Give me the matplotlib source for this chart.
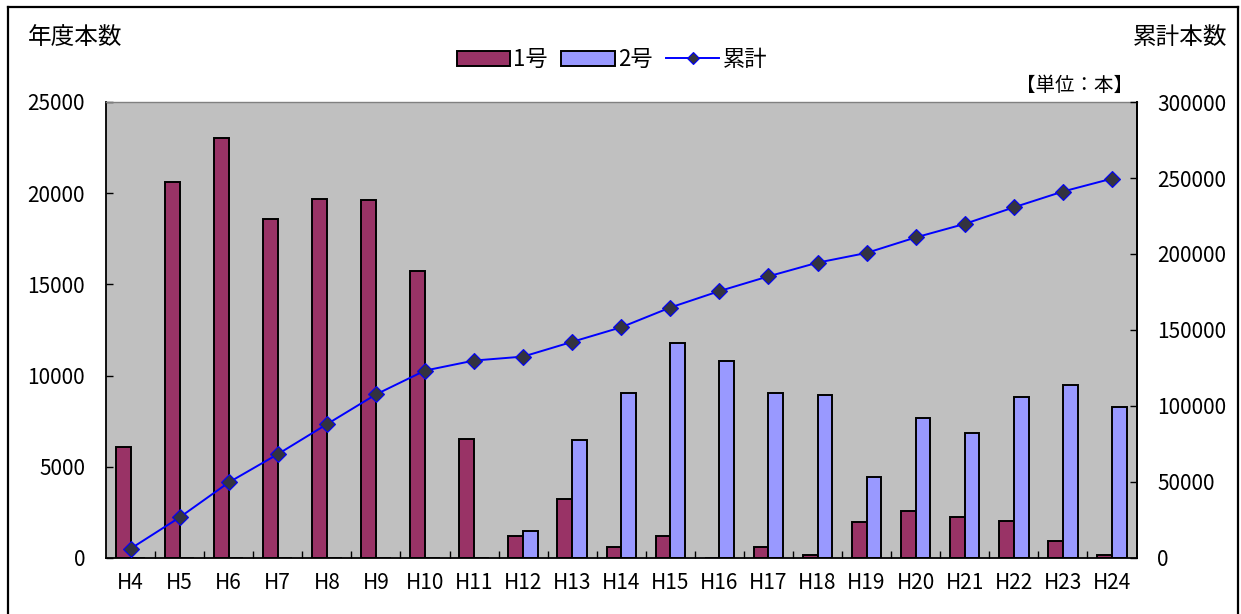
import matplotlib
matplotlib.use("Agg")
import matplotlib.pyplot as plt
from matplotlib.lines import Line2D
from matplotlib.ticker import FixedLocator, NullFormatter

plt.rcParams['font.family'] = ['Noto Sans CJK JP', 'DejaVu Sans']

# Fiscal years (Heisei era)
years = ["H4", "H5", "H6", "H7", "H8", "H9", "H10", "H11", "H12", "H13", "H14",
         "H15", "H16", "H17", "H18", "H19", "H20", "H21", "H22", "H23", "H24"]
# Annual counts by type
type1 = [6100, 20600, 23000, 18600, 19700, 19600, 15750, 6550, 1200, 3250, 600,
         1200, 0, 600, 150, 1950, 2600, 2250, 2050, 950, 150]
type2 = [0, 0, 0, 0, 0, 0, 0, 0, 1500, 6450, 9050,
         11800, 10800, 9050, 8950, 4450, 7650, 6850, 8850, 9500, 8300]
# Running total
cumulative = [6100, 26700, 49700, 68300, 88000, 107600, 123300, 129900, 132500,
              142200, 151800, 164800, 175600, 185300, 194300, 200700, 210900,
              219800, 230700, 241100, 249600]

left_ticks = [0, 5000, 10000, 15000, 20000, 25000]
right_ticks = [0, 50000, 100000, 150000, 200000, 250000, 300000]

W, H = 1241, 614
fig = plt.figure(figsize=(W / 100, H / 100), dpi=100)
ax = fig.add_axes([106 / W, 1 - 558 / H, (1136.5 - 106) / W, (558 - 102) / H])
ax.set_facecolor("#C0C0C0")

x = list(range(len(years)))
bw = 0.3
b1 = ax.bar([i - bw / 2 for i in x], type1, width=bw, color="#993366",
            edgecolor="black", linewidth=1.4, label="1号", zorder=2)
b2 = ax.bar([i + bw / 2 for i in x], type2, width=bw, color="#9999FF",
            edgecolor="black", linewidth=1.4, label="2号", zorder=2)

ax.set_xlim(-0.5, len(years) - 0.5)
ax.set_ylim(0, 25000)
ax.set_yticks(left_ticks)
ax.set_yticklabels([str(v) for v in left_ticks])
ax.set_xticks(x)
ax.set_xticklabels(years)
ax.xaxis.set_minor_locator(FixedLocator([i + 0.5 for i in x[:-1]]))
ax.xaxis.set_minor_formatter(NullFormatter())
ax.tick_params(axis="x", which="major", length=0, pad=10, labelsize=15)
ax.tick_params(axis="x", which="minor", direction="in", length=5, width=1,
               color="black")
ax.tick_params(axis="y", direction="in", length=5, width=1, pad=15,
               labelsize=15)

for side in ("left", "bottom", "right"):
    ax.spines[side].set_color("black")
    ax.spines[side].set_linewidth(1.3)
ax.spines["top"].set_color("#808080")
ax.spines["top"].set_linewidth(1.0)

ax2 = ax.twinx()
ln, = ax2.plot(x, cumulative, color="#0000FF", linewidth=1.4, marker="D",
               markersize=8, markerfacecolor="#333340",
               markeredgecolor="#0000FF", markeredgewidth=0.8, label="累計",
               zorder=3)
ax2.set_ylim(0, 300000)
ax2.set_yticks(right_ticks)
ax2.set_yticklabels([str(v) for v in right_ticks])
ax2.tick_params(axis="y", direction="in", length=5, width=1, pad=15,
                labelsize=15)
for side in ("left", "bottom", "top"):
    ax2.spines[side].set_visible(False)
ax2.spines["right"].set_color("black")
ax2.spines["right"].set_linewidth(1.3)

# Legend across the top
fig.legend(handles=[b1, b2, ln], labels=["1号", "2号", "累計"],
           loc="center", bbox_to_anchor=(612 / W, 1 - 59.5 / H), ncol=3,
           frameon=False, fontsize=16, handlelength=2.4, handleheight=0.68,
           handletextpad=0.15, columnspacing=0.6, markerscale=0.8,
           borderpad=0.0)

# Axis titles and unit note
fig.text(28 / W, 1 - 37 / H, "年度本数", fontsize=17, ha="left", va="center")
fig.text(1227 / W, 1 - 37 / H, "累計本数", fontsize=17, ha="right",
         va="center")
fig.text(1133 / W, 1 - 85 / H, "【単位：本】", fontsize=14, ha="right",
         va="center")

# Chart frame
frame_kw = dict(color="black", linewidth=1.6, transform=fig.transFigure)
fig.add_artist(Line2D([8 / W, 8 / W], [0, 1 - 7 / H], **frame_kw))
fig.add_artist(Line2D([8 / W, 1238 / W], [1 - 7 / H, 1 - 7 / H], **frame_kw))
fig.add_artist(Line2D([1238 / W, 1238 / W], [0, 1 - 7 / H], **frame_kw))

fig.savefig("out.png", dpi=100, facecolor="white")
